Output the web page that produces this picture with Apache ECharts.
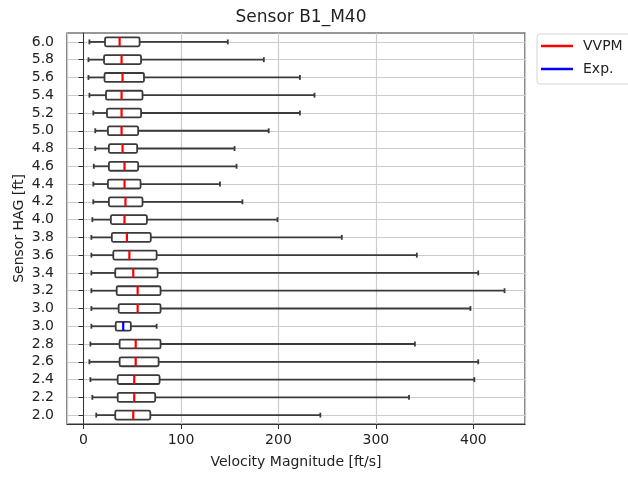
<!DOCTYPE html>
<html>
<head>
<meta charset="utf-8">
<script src="https://cdn.jsdelivr.net/npm/echarts@6/dist/echarts.min.js"></script>
<style>
  html, body { margin: 0; padding: 0; background: #fff; }
  #chart { width: 628px; height: 477px; }
</style>
</head>
<body>
<div id="chart"></div>
<script>
// 类目（从下往上）
const categories = ['2.0', '2.2', '2.4', '2.6', '2.8', '3.0', '3.0', '3.2', '3.4', '3.6', '3.8',
  '4.0', '4.2', '4.4', '4.6', '4.8', '5.0', '5.2', '5.4', '5.6', '5.8', '6.0']

// VVPM 箱线图数据
const vvpmRow = [0, 1, 2, 3, 4, 6, 7, 8, 9, 10, 11, 12, 13, 14, 15, 16, 17, 18, 19, 20, 21]
const vvpmLow = [13, 9, 7, 6, 7, 8, 8, 8, 8, 8, 9, 10, 10, 10.5, 12, 12, 10, 6, 5, 5, 6]
const vvpmQ1 = [32.5, 35, 35, 37, 37, 36, 34, 32.5, 30.5, 29, 28, 26, 25, 26, 26, 25, 24, 23, 21.5, 21, 22]
const vvpmMed = [51, 52, 52, 53.5, 53.5, 55.5, 55.5, 51, 47, 44.5, 42, 43, 42, 42, 40, 39, 39, 39, 40, 39, 37]
const vvpmQ3 = [68.5, 73.5, 78, 77, 79, 79, 79, 76, 75, 69, 65, 60.5, 58.5, 56, 55, 56, 59, 60.5, 62, 59, 57.5]
const vvpmHigh = [243, 334, 401, 405, 340, 397, 432, 405, 342, 265, 199, 163, 140, 157, 155, 190, 222, 237, 222, 185, 148]

// Exp. 箱线图数据
const expRow = [5]
const expLow = [8]
const expQ1 = [33]
const expMed = [40.7]
const expQ3 = [48.5]
const expHigh = [75]

const xTicks = [0, 100, 200, 300, 400]

function rows (row, low, q1, med, q3, high) {
  return row.map((r, i) => [r, low[i], q1[i], med[i], q3[i], high[i]])
}

// 自定义箱线：须线、端帽、箱体、中位线
function renderBox (params, api) {
  const y = api.value(0)
  const pLow = api.coord([api.value(1), y])
  const pQ1 = api.coord([api.value(2), y])
  const pMed = api.coord([api.value(3), y])
  const pQ3 = api.coord([api.value(4), y])
  const pHigh = api.coord([api.value(5), y])
  const h = api.size([0, 1])[1] * 0.5
  const cap = h * 0.55
  const cy = pQ1[1]
  const dark = { stroke: '#3a3a3a', lineWidth: 1.8 }
  return {
    type: 'group',
    children: [
      { type: 'line', shape: { x1: pLow[0], y1: cy, x2: pQ1[0], y2: cy }, style: dark },
      { type: 'line', shape: { x1: pQ3[0], y1: cy, x2: pHigh[0], y2: cy }, style: dark },
      { type: 'line', shape: { x1: pLow[0], y1: cy - cap / 2, x2: pLow[0], y2: cy + cap / 2 }, style: dark },
      { type: 'line', shape: { x1: pHigh[0], y1: cy - cap / 2, x2: pHigh[0], y2: cy + cap / 2 }, style: dark },
      {
        type: 'rect',
        shape: { x: pQ1[0], y: cy - h / 2, width: pQ3[0] - pQ1[0], height: h, r: 1.5 },
        style: { fill: '#fff', stroke: '#3a3a3a', lineWidth: 1.8 }
      },
      {
        type: 'line',
        shape: { x1: pMed[0], y1: cy - h / 2, x2: pMed[0], y2: cy + h / 2 },
        style: { stroke: api.visual('color'), lineWidth: 2.2 }
      }
    ]
  }
}

const font = 'DejaVu Sans'
const chart = echarts.init(document.getElementById('chart'))
chart.setOption({
  animation: false,
  textStyle: { fontFamily: font },
  title: {
    text: 'Sensor B1_M40',
    left: 296,
    top: 4,
    textAlign: 'center',
    textStyle: { fontFamily: font, fontSize: 17, fontWeight: 'normal', color: '#222' }
  },
  legend: {
    orient: 'vertical',
    left: 537,
    top: 34,
    icon: 'rect',
    itemWidth: 32,
    itemHeight: 2.5,
    itemGap: 9,
    padding: [5, 40, 8, 4],
    borderColor: '#d5d5d5',
    borderWidth: 1,
    borderRadius: 3,
    textStyle: { fontFamily: font, fontSize: 14, color: '#222', padding: [0, 0, 0, 5] },
    data: ['VVPM', 'Exp.']
  },
  grid: {
    show: true,
    left: 67,
    right: 103,
    top: 33,
    bottom: 53,
    borderColor: '#333',
    borderWidth: 1.2,
    backgroundColor: '#fff'
  },
  xAxis: {
    type: 'value',
    min: -17,
    max: 453,
    splitNumber: 5,
    name: 'Velocity Magnitude [ft/s]',
    nameLocation: 'middle',
    nameGap: 31,
    nameTextStyle: { fontFamily: font, fontSize: 14, color: '#222' },
    axisLine: { show: true, lineStyle: { color: '#333' } },
    axisTick: { show: true, length: 5, lineStyle: { color: '#333' } },
    axisLabel: {
      margin: 9,
      fontFamily: font,
      fontSize: 14,
      color: '#222',
      showMinLabel: false,
      showMaxLabel: false,
      formatter: v => (xTicks.indexOf(v) >= 0 ? String(v) : '')
    },
    splitLine: { show: true, lineStyle: { color: '#cccccc', width: 1.2 } }
  },
  yAxis: {
    type: 'category',
    data: categories,
    name: 'Sensor HAG [ft]',
    nameLocation: 'middle',
    nameGap: 41,
    nameMoveOverlap: false,
    nameTextStyle: { fontFamily: font, fontSize: 14, color: '#222' },
    axisLine: { show: true, lineStyle: { color: '#333' } },
    axisTick: { show: true, alignWithLabel: true, length: 5, lineStyle: { color: '#333' } },
    axisLabel: { interval: 0, margin: 13, fontFamily: font, fontSize: 14, color: '#222' },
    splitLine: { show: true, alignWithLabel: true, interval: 0, lineStyle: { color: '#cccccc', width: 1.2 } }
  },
  series: [
    {
      name: 'VVPM',
      type: 'custom',
      renderItem: renderBox,
      itemStyle: { color: '#ff0000' },
      encode: { x: [1, 2, 3, 4, 5], y: 0 },
      data: rows(vvpmRow, vvpmLow, vvpmQ1, vvpmMed, vvpmQ3, vvpmHigh)
    },
    {
      name: 'Exp.',
      type: 'custom',
      renderItem: renderBox,
      itemStyle: { color: '#0000ff' },
      encode: { x: [1, 2, 3, 4, 5], y: 0 },
      data: rows(expRow, expLow, expQ1, expMed, expQ3, expHigh)
    }
  ]
})
</script>
</body>
</html>
